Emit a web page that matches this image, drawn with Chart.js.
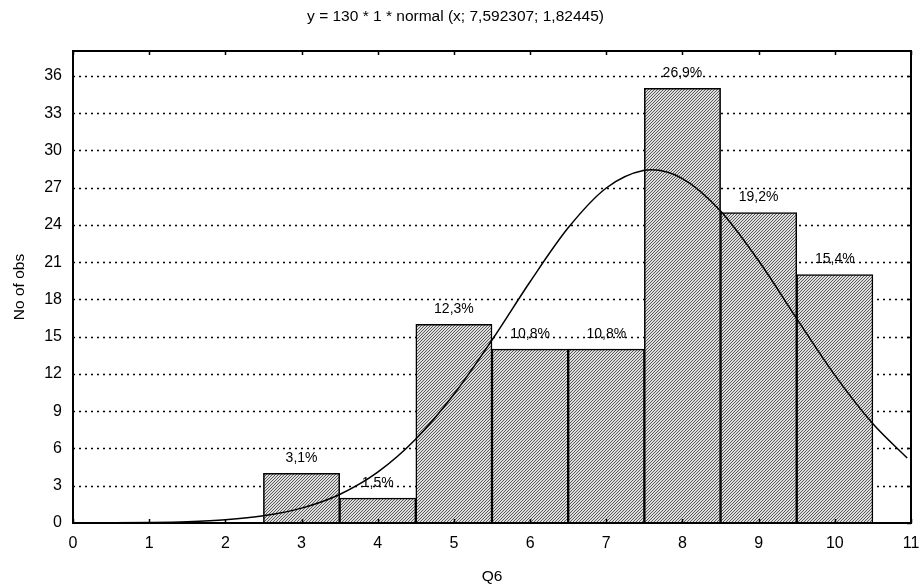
<!DOCTYPE html>
<html>
<head>
<meta charset="utf-8">
<script src="https://cdn.jsdelivr.net/npm/chart.js@4"></script>
<style>
  html, body { margin: 0; padding: 0; background: #fff; }
  #wrap { width: 924px; height: 587px; }
</style>
</head>
<body>
<div id="wrap"><canvas id="c" width="924" height="587"></canvas></div>
<script>
// ---- Data ----
const categories = [3, 4, 5, 6, 7, 8, 9, 10];
const counts = [4, 2, 16, 14, 14, 35, 25, 20];
const percentLabels = ['3,1%', '1,5%', '12,3%', '10,8%', '10,8%', '26,9%', '19,2%', '15,4%'];
const curveX = [0, 0.5, 1, 1.5, 2, 2.5, 3, 3.5, 4, 4.5, 5, 5.5, 6, 6.5, 7, 7.5, 7.59, 8, 8.5, 9, 9.5, 10, 10.5, 10.95];
const curveY = [0.005, 0.015, 0.042, 0.108, 0.259, 0.578, 1.197, 2.298, 4.092, 6.760, 10.361, 14.730, 19.426, 23.765, 26.971, 28.394, 28.43, 27.729, 25.121, 21.110, 16.458, 11.902, 7.984, 5.23];
const xTicks = [0, 1, 2, 3, 4, 5, 6, 7, 8, 9, 10, 11];
const yTicks = [0, 3, 6, 9, 12, 15, 18, 21, 24, 27, 30, 33, 36];
const titleText = 'y = 130 * 1 * normal (x; 7,592307; 1,82445)';
const xTitle = 'Q6';
const yTitle = 'No of obs';

// ---- Hatch pattern ----
function makePattern() {
  const p = document.createElement('canvas');
  p.width = 3; p.height = 3;
  const g = p.getContext('2d');
  g.fillStyle = '#dedede';
  g.fillRect(0, 0, 3, 3);
  g.fillStyle = '#5a5a5a';
  g.fillRect(2, 0, 1, 1);
  g.fillRect(1, 1, 1, 1);
  g.fillRect(0, 2, 1, 1);
  return document.getElementById('c').getContext('2d').createPattern(p, 'repeat');
}
const hatch = makePattern();

const FONT = '"Liberation Sans", Arial, sans-serif';
Chart.defaults.font.family = FONT;
Chart.defaults.font.size = 15.5;
Chart.defaults.color = '#000';

const decor = {
  id: 'decor',
  beforeDatasetsDraw(chart) {
    const {ctx, chartArea: a, scales: {y}} = chart;
    ctx.save();
    ctx.strokeStyle = '#000';
    ctx.lineWidth = 1.5;
    ctx.setLineDash([2, 4]);
    yTicks.forEach(v => {
      if (v === 0) return;
      const py = Math.round(y.getPixelForValue(v)) + 0.5;
      ctx.beginPath();
      ctx.moveTo(a.left, py);
      ctx.lineTo(a.right, py);
      ctx.stroke();
    });
    ctx.restore();
  },
  afterDatasetsDraw(chart) {
    const {ctx, chartArea: a, scales: {x, y}} = chart;
    ctx.save();
    ctx.strokeStyle = '#000';
    ctx.lineWidth = 1.5;
    xTicks.forEach(v => {
      const px = Math.round(x.getPixelForValue(v)) + 0.5;
      ctx.beginPath();
      ctx.moveTo(px, a.bottom); ctx.lineTo(px, a.bottom - 4);
      ctx.moveTo(px, a.top); ctx.lineTo(px, a.top + 4);
      ctx.stroke();
    });
    yTicks.forEach(v => {
      const py = Math.round(y.getPixelForValue(v)) + 0.5;
      ctx.beginPath();
      ctx.moveTo(a.right, py); ctx.lineTo(a.right - 4, py);
      ctx.stroke();
    });
    ctx.lineWidth = 2;
    ctx.strokeRect(a.left, a.top, a.right - a.left, a.bottom - a.top);
    ctx.fillStyle = '#000';
    ctx.font = '14px ' + FONT;
    ctx.textAlign = 'center';
    ctx.textBaseline = 'middle';
    categories.forEach((c, i) => {
      ctx.fillText(percentLabels[i], x.getPixelForValue(c), y.getPixelForValue(counts[i]) - 15);
    });
    ctx.restore();
  }
};

new Chart(document.getElementById('c'), {
  data: {
    datasets: [
      {
        type: 'line',
        order: 0,
        data: curveX.map((v, i) => ({x: v, y: curveY[i]})),
        borderColor: '#000',
        borderWidth: 1.5,
        pointRadius: 0,
        fill: false,
        cubicInterpolationMode: 'monotone'
      },
      {
        type: 'bar',
        order: 1,
        data: categories.map((c, i) => ({x: c, y: counts[i]})),
        backgroundColor: hatch,
        borderColor: '#000',
        borderWidth: 1.5,
        barPercentage: 1,
        categoryPercentage: 1
      }
    ]
  },
  options: {
    responsive: false,
    animation: false,
    devicePixelRatio: 1,
    layout: { padding: { top: 0, right: 13, bottom: 0, left: 0 } },
    plugins: {
      legend: { display: false },
      tooltip: { enabled: false },
      title: {
        display: true,
        text: titleText,
        color: '#000',
        font: { size: 15.5, weight: 'normal' },
        padding: { top: 7.7, bottom: 24.7 }
      }
    },
    scales: {
      x: {
        type: 'linear',
        offset: false,
        min: 0, max: 11,
        grid: { display: false, drawTicks: false, offset: false },
        border: { display: false },
        ticks: { stepSize: 1, padding: 11, maxRotation: 0, autoSkip: false, font: { size: 16 } },
        afterBuildTicks: s => { s.ticks = xTicks.map(v => ({value: v})); },
        afterFit: s => { s.height = 64; s.paddingLeft = 0; s.paddingRight = 0; },
        title: { display: true, text: xTitle, font: { size: 15.5 }, padding: { top: 0, bottom: 1 } }
      },
      y: {
        type: 'linear',
        min: 0, max: 38,
        grid: { display: false, drawTicks: false },
        border: { display: false },
        ticks: { stepSize: 3, padding: 11, font: { size: 16 } },
        afterBuildTicks: s => { s.ticks = yTicks.map(v => ({value: v})); },
        afterFit: s => { s.width = 73; s.paddingTop = 0; s.paddingBottom = 0; },
        title: { display: true, text: yTitle, font: { size: 15.5 }, padding: { top: 10, bottom: 0 } }
      }
    }
  },
  plugins: [decor]
});
</script>
</body>
</html>
